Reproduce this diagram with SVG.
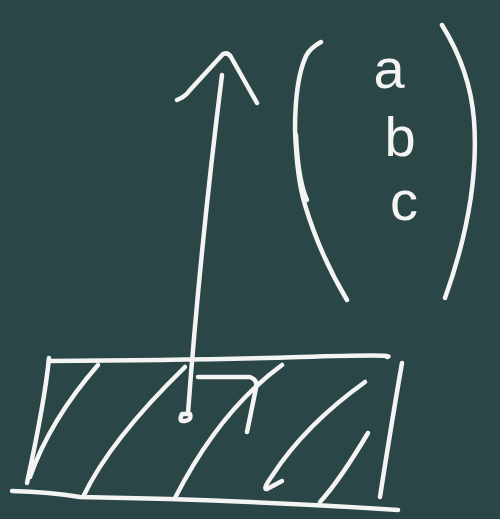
<svg xmlns="http://www.w3.org/2000/svg" width="500" height="519" viewBox="0 0 500 519">
<style>
.s{fill:none;stroke:#f4f4f4;stroke-width:4.5;stroke-linecap:round;stroke-linejoin:round}
.t{fill:#f4f4f4;font-family:"Liberation Sans",Arial,sans-serif;text-anchor:middle}
</style>
<rect width="500" height="519" fill="#2b4646"/>
<g id="box">
<path class="s" d="M49,361 Q200,360 300,357 T387,357"/>
<path class="s" d="M49,358 Q45,400 27,483"/>
<path class="s" d="M12,491 Q50,492 80,497 Q250,500 398,510"/>
<path class="s" d="M402,363 Q392,420 380,497"/>
<path class="s" d="M98,365 Q50,420 30,477"/>
<path class="s" d="M185,367 Q110,440 83,497"/>
<path class="s" d="M282,365 Q220,410 175,498"/>
<path class="s" d="M365,382 Q305,425 272,476 Q262,490 267,489 L282,481"/>
<path class="s" d="M368,433 Q340,480 320,502"/>
<path class="s" d="M198,377 L250,377 Q258,380 256,388 L247,432"/>
</g>
<g id="arrow">
<path class="s" d="M222,75 Q200,250 188,413"/>
<path class="s" d="M182,414 Q178,422 185,421 Q192,420 190,414 Z" stroke-width="5"/>
<path class="s" d="M177,100 Q185,97 190,90 L223,54 Q228,52 231,57 L257,103"/>
</g>
<g id="matrix">
<path class="s" d="M321,42 Q310,48 306,56 Q295,80 295,130 Q297,180 305,205 Q320,255 347,300"/>
<path class="s" d="M296,135 Q298,180 307,200" stroke-width="3"/>
<path class="s" d="M442,25 Q470,70 474,120 Q480,200 445,298"/>
<text class="t" x="389" y="88" font-size="56">a</text>
<text class="t" x="400" y="156" font-size="56">b</text>
<text class="t" x="404" y="220" font-size="56">c</text>
</g>
</svg>
